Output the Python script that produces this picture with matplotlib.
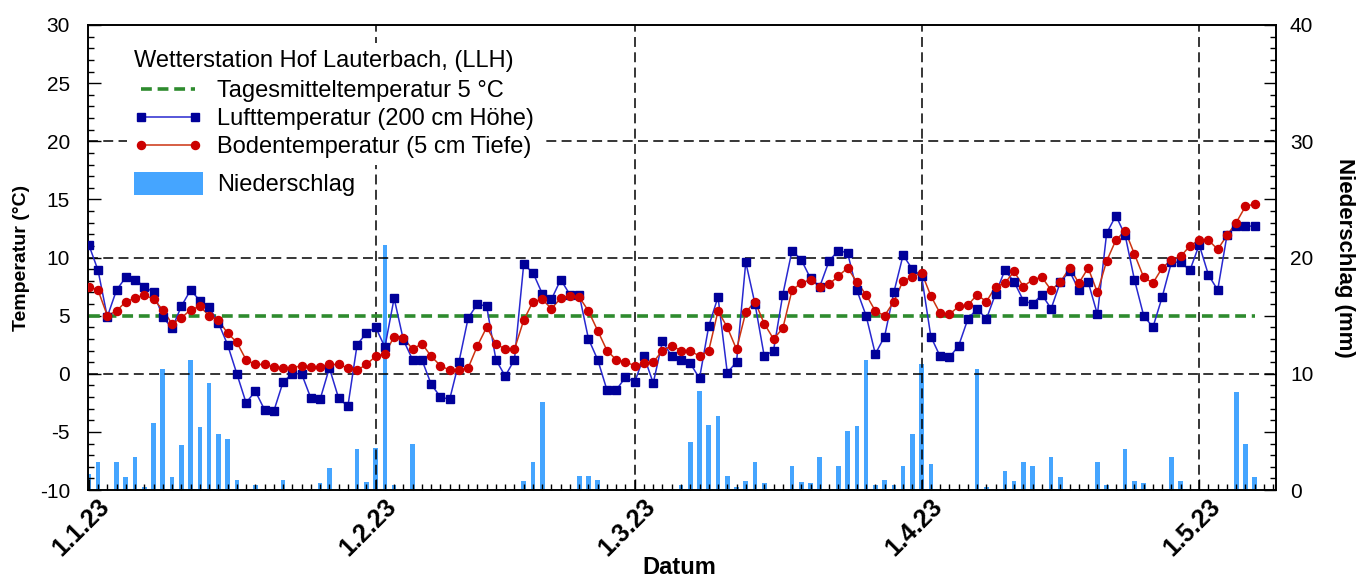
import numpy as np
import pandas as pd
import matplotlib
matplotlib.use('Agg')
import matplotlib.pyplot as plt
import matplotlib.dates as mdates
from matplotlib.ticker import MultipleLocator, FuncFormatter
from matplotlib.lines import Line2D
from matplotlib.patches import Patch
from matplotlib.transforms import ScaledTranslation

plt.rcParams['font.family'] = ['Liberation Sans', 'DejaVu Sans']
plt.rcParams['axes.unicode_minus'] = False

# daily values 1.1.23 - 7.5.23
air = [
    # Jan
    11.1, 8.9, 4.9, 7.2, 8.3, 8.1, 7.5, 7.0, 4.9, 3.9, 5.8, 7.2, 6.3, 5.7, 4.4, 2.5,
    0.0, -2.5, -1.5, -3.1, -3.2, -0.7, 0.0, 0.0, -2.1, -2.2, 0.5, -2.1, -2.8, 2.5, 3.5,
    # Feb
    4.0, 2.3, 6.5, 2.9, 1.2, 1.2, -0.9, -2.0, -2.2, 1.0, 4.8, 6.0, 5.8, 1.2, -0.2, 1.2,
    9.4, 8.7, 6.9, 6.4, 8.1, 6.8, 6.8, 3.0, 1.2, -1.4, -1.4, -0.3,
    # Mar
    -0.7, 1.5, -0.8, 2.8, 1.5, 1.2, 0.9, -0.4, 4.1, 6.6, 0.1, 1.0, 9.6, 6.0, 1.5, 2.0,
    6.8, 10.6, 9.8, 8.2, 7.5, 9.7, 10.6, 10.4, 7.2, 5.0, 1.7, 3.2, 7.0, 10.2, 9.0,
    # Apr
    8.4, 3.2, 1.5, 1.4, 2.4, 4.7, 5.6, 4.7, 6.9, 8.9, 7.9, 6.3, 6.0, 6.8, 5.6, 7.9,
    8.8, 7.2, 7.9, 5.1, 12.1, 13.6, 11.9, 8.1, 5.0, 4.0, 6.6, 9.6, 9.6, 8.9,
    # May
    11.1, 8.5, 7.2, 11.9, 12.7, 12.7, 12.7,
]
soil = [
    7.5, 7.2, 5.0, 5.4, 6.2, 6.5, 6.8, 6.4, 5.5, 4.3, 4.8, 5.5, 5.8, 5.0, 4.6, 3.5,
    2.7, 1.2, 0.8, 0.8, 0.6, 0.5, 0.5, 0.7, 0.6, 0.6, 0.8, 0.8, 0.5, 0.3, 0.8,
    1.5, 1.7, 3.2, 3.1, 2.1, 2.6, 1.5, 0.7, 0.3, 0.3, 0.5, 2.4, 4.0, 2.6, 2.1, 2.1,
    4.6, 6.2, 6.4, 5.6, 6.5, 6.7, 6.6, 5.4, 3.7, 2.0, 1.2, 1.0,
    0.7, 0.9, 1.0, 2.0, 2.4, 2.0, 2.0, 1.5, 2.0, 5.4, 4.0, 2.1, 5.3, 6.2, 4.3, 3.0,
    3.9, 7.2, 7.8, 8.1, 7.5, 7.7, 8.4, 9.1, 7.9, 6.8, 5.4, 5.0, 6.2, 8.0, 8.3,
    8.7, 6.7, 5.2, 5.1, 5.8, 5.9, 6.8, 6.2, 7.5, 7.8, 8.8, 7.5, 8.1, 8.3, 7.2, 7.9,
    9.1, 7.8, 9.1, 7.0, 9.7, 11.5, 12.3, 10.3, 8.3, 7.8, 9.1, 9.8, 10.1, 11.0,
    11.5, 11.5, 10.7, 11.9, 13.0, 14.4, 14.6,
]
rain = [
    1.4, 2.4, 0.0, 2.4, 1.1, 2.8, 0.3, 5.8, 10.4, 1.1, 3.9, 11.2, 5.4, 9.2, 4.8, 4.4,
    0.9, 0.0, 0.4, 0.0, 0.0, 0.9, 0.0, 0.0, 0.0, 0.6, 1.9, 0.0, 0.0, 3.5, 0.7,
    3.6, 21.1, 0.4, 0.0, 4.0, 0.0, 0.0, 0.0, 0.0, 0.0, 0.0, 0.0, 0.0, 0.1, 0.0, 0.0,
    0.8, 2.4, 7.6, 0.0, 0.0, 0.0, 1.2, 1.2, 0.9, 0.0, 0.0, 0.0,
    0.0, 0.0, 0.0, 0.1, 0.1, 0.4, 4.1, 8.5, 5.6, 6.4, 1.2, 0.3, 0.8, 2.4, 0.6, 0.0,
    0.0, 2.1, 0.7, 0.6, 2.8, 0.0, 2.1, 5.1, 5.5, 11.2, 0.4, 0.9, 0.4, 2.1, 4.8,
    10.8, 2.2, 0.0, 0.0, 0.0, 0.0, 10.4, 0.3, 0.0, 1.6, 0.8, 2.4, 2.1, 0.0, 2.8, 1.1,
    0.0, 0.0, 0.0, 2.4, 0.4, 0.0, 3.5, 0.8, 0.6, 0.0, 0.0, 2.8, 0.8, 0.0,
    0.0, 0.0, 0.0, 0.0, 8.4, 4.0, 1.1,
]
dates = pd.date_range('2023-01-01', periods=len(air), freq='D')
month_starts = pd.to_datetime(['2023-01-01', '2023-02-01', '2023-03-01',
                               '2023-04-01', '2023-05-01'])
month_labels = ['1.1.23', '1.2.23', '1.3.23', '1.4.23', '1.5.23']
threshold = 5.0
grid_temps = [0, 10, 20]

c_air = '#000099'
c_airline = '#2828d0'
c_soil = '#cc0000'
c_soilline = '#cc3311'
c_green = '#2e8b2e'
c_rain = '#45a5ff'
grid_ls = (0, (6.5, 3.5))

fig = plt.figure(figsize=(13.67, 5.76), dpi=100)
W, H = 1367., 576.
ax = fig.add_axes([88/W, 1-490/H, (1276-88)/W, (490-25)/H])
ax2 = ax.twinx()
ax.set_zorder(ax2.get_zorder()+1)
ax.patch.set_visible(False)

# precipitation bars (right axis)
ax2.bar(dates, rain, width=0.5, color=c_rain, zorder=2)
ax2.set_ylim(0, 40)

# grid lines
for yv in grid_temps:
    ax.axhline(yv, color='black', lw=1.1, ls=grid_ls, zorder=1)
for m in month_starts[1:]:
    ax.axvline(m, color='black', lw=1.1, ls=grid_ls, zorder=1)

# temperatures
ax.plot(dates, np.full(len(dates), threshold), color=c_green, lw=2.6,
        ls=(0, (3, 1.6)), zorder=3)
ax.plot(dates, air, color=c_airline, lw=1.1, zorder=4)
ax.plot(dates, air, ls='none', marker='s', ms=6.3, mfc=c_air, mec=c_air, zorder=5)
ax.plot(dates, soil, color=c_soilline, lw=1.1, zorder=4)
ax.plot(dates, soil, ls='none', marker='o', ms=5.8, mfc=c_soil, mec=c_soil, zorder=6)

ax.set_xlim(dates[0] - pd.Timedelta(hours=2), dates[0] + pd.Timedelta(days=128.3))
ax.set_ylim(-10, 30)

# axis ticks
ax.yaxis.set_major_locator(MultipleLocator(5))
ax.yaxis.set_minor_locator(MultipleLocator(1))
ax.tick_params(axis='y', which='major', direction='in', length=9, width=1,
               labelsize=15, pad=13)
ax.tick_params(axis='y', which='minor', direction='in', length=4, width=1)
ax2.yaxis.set_major_locator(MultipleLocator(5))
ax2.yaxis.set_minor_locator(MultipleLocator(1))
ax2.yaxis.set_major_formatter(FuncFormatter(lambda v, p: '%d' % v if v % 10 == 0 else ''))
ax2.tick_params(axis='y', which='major', direction='in', length=9, width=1,
                labelsize=15, pad=10)
ax2.tick_params(axis='y', which='minor', direction='in', length=4, width=1)

ax.set_xticks(month_starts)
ax.xaxis.set_minor_locator(mdates.DayLocator())
ax.set_xticklabels(month_labels, rotation=45, ha='right', va='center',
                   rotation_mode='anchor', fontweight='bold', fontsize=18)
ax.tick_params(axis='x', which='major', direction='in', length=8, width=1, pad=2)
ax.tick_params(axis='x', which='minor', direction='in', length=4, width=1)
offset = ScaledTranslation(0.17, -0.10, fig.dpi_scale_trans)
for lbl in ax.get_xticklabels():
    lbl.set_transform(lbl.get_transform() + offset)

for a in (ax, ax2):
    for s in a.spines.values():
        s.set_linewidth(1.2)

ax.set_xlabel('Datum', fontsize=17, fontweight='bold', va='center')
ax.xaxis.set_label_coords(0.498, -0.166)
ax.set_ylabel('Temperatur (°C)', fontsize=14, fontweight='bold', va='center')
ax.yaxis.set_label_coords(-0.0556, 0.5)
ax2.set_ylabel('Niederschlag (mm)', fontsize=16, fontweight='bold', rotation=270,
               va='center')
ax2.yaxis.set_label_coords(1.058, 0.5)

# legends
h_green = Line2D([], [], color=c_green, lw=2.6, ls=(0, (3, 1.6)))
h_air = Line2D([], [], color=c_airline, lw=1.1, marker='s', ms=6.3, mfc=c_air, mec=c_air)
h_soil = Line2D([], [], color=c_soilline, lw=1.1, marker='o', ms=5.8, mfc=c_soil, mec=c_soil)
leg1 = ax.legend([h_green, h_air, h_soil],
                 ['Tagesmitteltemperatur 5 °C', 'Lufttemperatur (200 cm Höhe)',
                  'Bodentemperatur (5 cm Tiefe)'],
                 title='Wetterstation Hof Lauterbach, (LLH)', alignment='left',
                 title_fontsize=17, fontsize=17, numpoints=2,
                 handlelength=2.9, handletextpad=0.6, labelspacing=0.25,
                 borderpad=0.3, borderaxespad=0, loc='upper left',
                 bbox_to_anchor=(127/W, 1-43/H), bbox_transform=fig.transFigure,
                 frameon=True, fancybox=False, framealpha=1)
leg1.get_frame().set_linewidth(0)
leg1._legend_box.sep = 6
ax.add_artist(leg1)
leg2 = ax.legend([Patch(facecolor=c_rain, edgecolor='none')], ['Niederschlag'],
                 fontsize=17, handlelength=2.9, handleheight=1.1, handletextpad=0.6,
                 borderpad=0.3, borderaxespad=0, loc='upper left',
                 bbox_to_anchor=(127/W, 1-165/H), bbox_transform=fig.transFigure,
                 frameon=True, fancybox=False, framealpha=1)
leg2.get_frame().set_linewidth(0)

fig.savefig('out.png', dpi=100)
